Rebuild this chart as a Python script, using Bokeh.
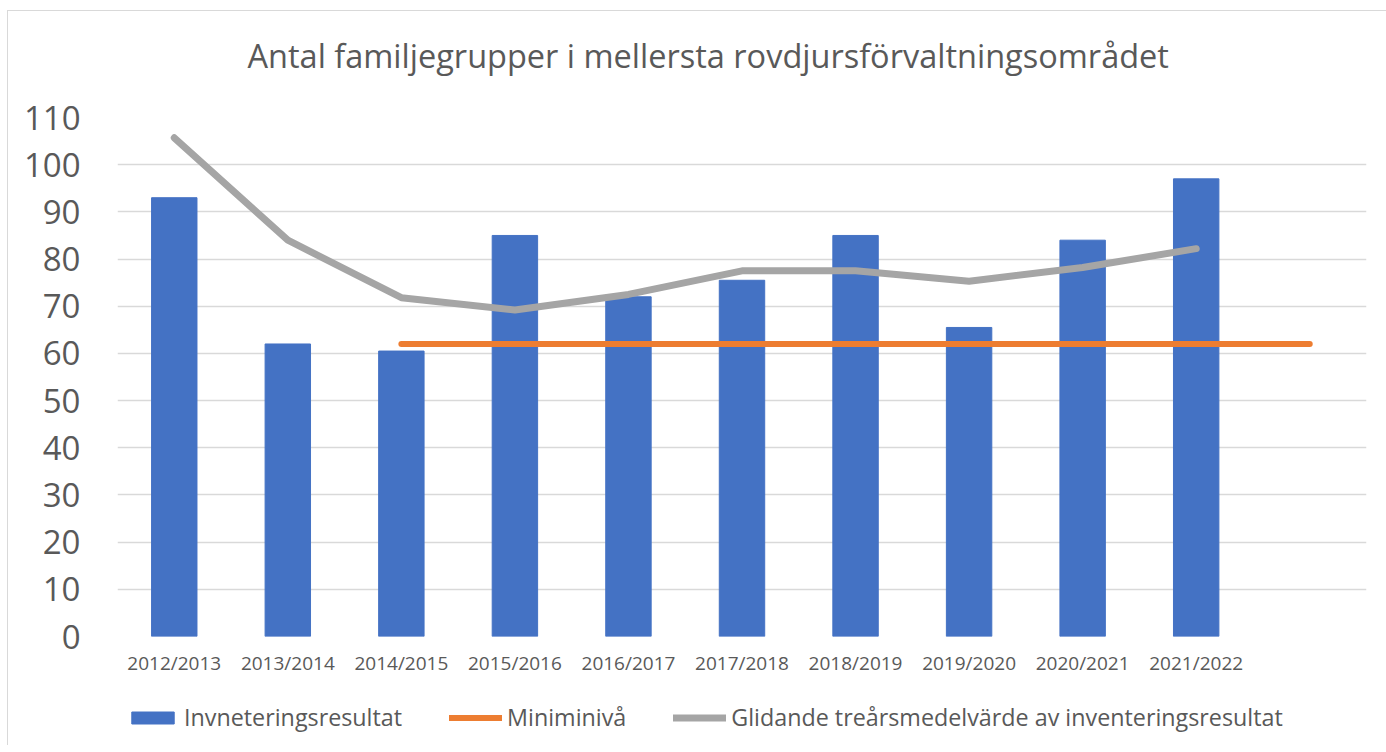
from bokeh.plotting import figure
from bokeh.models import FactorRange, Legend, LegendItem, FixedTicker, Range1d, Title
from bokeh.layouts import column
from bokeh.embed import file_html
from bokeh.resources import INLINE

categories = ["2012/2013", "2013/2014", "2014/2015", "2015/2016", "2016/2017",
              "2017/2018", "2018/2019", "2019/2020", "2020/2021", "2021/2022"]
extra_slot = [""]
inventering = [93, 62, 60.5, 85, 72, 75.5, 85, 65.5, 84, 97]
glidande = [105.7, 84, 71.8, 69.2, 72.5, 77.5, 77.5, 75.3, 78.2, 82.2]
mini_x = ["2014/2015", ""]
mini_y = [62, 62]
y_ticks = [0, 10, 20, 30, 40, 50, 60, 70, 80, 90, 100, 110]
title_text = "Antal familjegrupper i mellersta rovdjursförvaltningsområdet"
legend_labels = ["Invneteringsresultat", "Miniminivå",
                 "Glidande treårsmedelvärde av inventeringsresultat"]

FONT = "Open Sans"
GREY_TXT = "#595959"
BLUE, ORANGE, GREY = "#4472C4", "#ED7D31", "#A5A5A5"

x_range = FactorRange(factors=categories + extra_slot, range_padding=0)
y_range = Range1d(0, 110)

# title strip
tf = figure(width=1378, height=80, output_backend="svg", toolbar_location=None,
            x_range=x_range, y_range=y_range, title=None,
            x_axis_location=None, y_axis_location=None,
            min_border_left=0, min_border_right=0, min_border_top=0, min_border_bottom=0)
tf.outline_line_color = None
tf.grid.grid_line_color = None
title = Title(text=title_text, align="left", offset=130, text_font=FONT,
              text_font_size="32.5px", text_font_style="normal",
              text_color=GREY_TXT, standoff=28)
tf.add_layout(title, "below")

# main chart
p = figure(width=1378, height=592, output_backend="svg", toolbar_location=None,
           x_range=x_range, y_range=y_range,
           min_border_left=109, min_border_right=20, min_border_top=26, min_border_bottom=47)
p.outline_line_color = None

p.vbar(x=categories, top=inventering, width=0.4, color=BLUE)
p.line(x=mini_x, y=mini_y, line_color=ORANGE, line_width=6, line_cap="round")
p.line(x=categories, y=glidande, line_color=GREY, line_width=7,
       line_cap="round", line_join="round")

p.yaxis.ticker = FixedTicker(ticks=y_ticks)
p.ygrid.ticker = FixedTicker(ticks=y_ticks)
p.ygrid.grid_line_color = "#D9D9D9"
p.ygrid.grid_line_width = 1.5
p.xgrid.grid_line_color = None

for ax in (p.xaxis[0], p.yaxis[0]):
    ax.axis_line_color = None
    ax.major_tick_line_color = None
    ax.minor_tick_line_color = None
    ax.major_label_text_font = FONT
    ax.major_label_text_color = GREY_TXT

p.yaxis.major_label_text_font_size = "33px"
p.yaxis.major_label_standoff = 31
p.xaxis.major_label_text_font_size = "19px"
p.xaxis.major_label_standoff = 7

# legend strip below the chart (hidden proxies carry the legend glyphs)
lf = figure(width=1378, height=62, output_backend="svg", toolbar_location=None,
            x_range=x_range, y_range=y_range,
            x_axis_location=None, y_axis_location=None,
            min_border_left=0, min_border_right=0, min_border_top=0, min_border_bottom=0)
lf.outline_line_color = None
lf.grid.grid_line_color = None
r_bar = lf.vbar(x=categories, top=inventering, width=0.4, color=BLUE, visible=False)
r_min = lf.line(x=mini_x, y=mini_y, line_color=ORANGE, line_width=6, line_cap="round", visible=False)
r_gli = lf.line(x=categories, y=glidande, line_color=GREY, line_width=7, line_cap="round", visible=False)

legend = Legend(items=[
    LegendItem(label=legend_labels[0], renderers=[r_bar]),
    LegendItem(label=legend_labels[1], renderers=[r_min]),
    LegendItem(label=legend_labels[2], renderers=[r_gli]),
], orientation="horizontal", location=(9, 12))
legend.label_text_font = FONT
legend.label_text_font_size = "23.3px"
legend.label_text_color = GREY_TXT
legend.glyph_width = 53
legend.glyph_height = 15
legend.label_height = 15
legend.label_standoff = 5
legend.spacing = 47
legend.padding = 0
legend.margin = 0
legend.border_line_color = None
legend.background_fill_alpha = 0
lf.add_layout(legend, "center")

layout = column(tf, p, lf, spacing=0)
layout.styles = {"margin-left": "7px", "margin-top": "10px",
                 "border-left": "1px solid #d9d9d9", "border-top": "1px solid #d9d9d9"}

open("out.html", "w").write(file_html(layout, INLINE))
